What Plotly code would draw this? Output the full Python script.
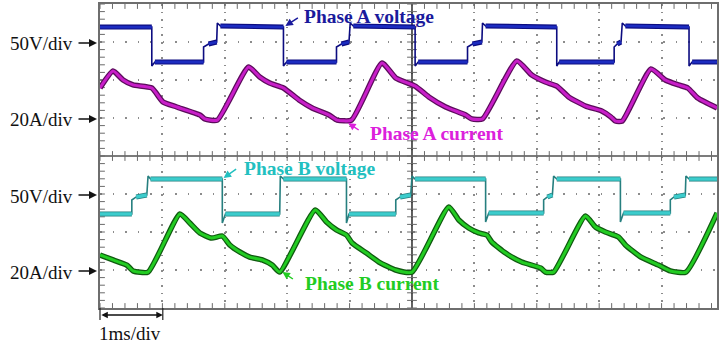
import plotly.graph_objects as go

# ---------------- data (time in ms, voltage in V, current in A) ----------------
# Phase A voltage
ta_v = [0, 0.83, 0.83, 0.88, 1.66, 1.66, 1.74, 1.87, 1.88, 1.93, 2.94, 2.94, 2.99,
        3.79, 3.79, 3.87, 3.99, 4.01, 4.06, 5.05, 5.05, 5.10, 5.89, 5.89, 5.97, 6.12,
        6.13, 6.18, 7.32, 7.32, 7.36, 8.24, 8.24, 8.29, 8.35, 8.37, 8.42, 9.44, 9.44,
        9.49, 9.89]
va = [19.7, 19.7, -31.6, -26.3, -26.3, -6.6, -2.6, 0.0, 25.0, 21.1, 19.7, -31.6, -26.3,
      -26.3, -6.6, -2.6, 0.0, 25.0, 21.1, 19.7, -31.6, -26.3, -26.3, -6.6, -2.6, 0.0,
      25.0, 21.1, 19.7, -31.6, -26.3, -26.3, -6.6, -2.6, 0.0, 25.0, 21.1, 19.7, -31.6,
      -26.3, -26.3]

# Phase A current
ta_i = [0, 0.21, 0.37, 0.53, 0.83, 1.01, 1.23, 1.60, 1.68, 1.88, 2.38, 2.56, 2.72, 2.94,
        3.19, 3.40, 3.67, 3.80, 4.03, 4.52, 4.74, 5.05, 5.27, 5.54, 5.86, 5.96, 6.13,
        6.68, 6.92, 7.14, 7.32, 7.51, 7.78, 8.04, 8.19, 8.26, 8.37, 8.83, 9.06, 9.27,
        9.42, 9.58, 9.89]
ia = [15.8, 24.7, 20.0, 17.4, 15.8, 8.4, 5.8, 1.6, -0.5, -1.1, 26.8, 21.6, 18.4, 15.8,
      9.5, 5.3, 1.6, -1.1, -1.1, 28.9, 21.1, 16.8, 11.1, 5.8, 1.6, -0.5, -0.5,
      30.0, 22.6, 18.9, 16.8, 11.1, 6.3, 3.7, 0.5, -1.6, -1.6, 25.8, 20.0, 17.4,
      15.8, 10.5, 5.3]

# Phase B voltage
tb_v = [0, 0.51, 0.51, 0.58, 0.75, 0.77, 0.81, 1.96, 1.96, 2.01, 2.88, 2.89, 2.94,
        3.95, 3.95, 3.99, 4.74, 4.74, 4.81, 4.98, 5.00, 5.05, 6.18, 6.18, 6.23, 7.11,
        7.11, 7.17, 7.25, 7.27, 7.32, 8.34, 8.34, 8.39, 9.14, 9.14, 9.20, 9.38, 9.39,
        9.44, 9.89]
vb = [-26.3, -26.3, -7.9, -3.9, -1.3, 23.7, 19.7, 19.7, -38.2, -26.3, -26.3, 23.7, 19.7,
      19.7, -38.2, -26.3, -26.3, -7.9, -3.9, -1.3, 23.7, 19.7, 19.7, -36.8, -25.0, -25.0,
      -7.9, -3.9, -1.3, 23.7, 19.7, 19.7, -36.8, -25.0, -25.0, -7.9, -3.9, -1.3, 23.7,
      19.7, 19.7]

# Phase B current
tb_i = [0, 0.21, 0.43, 0.53, 0.77, 1.28, 1.44, 1.60, 1.79, 1.96, 2.08, 2.24, 2.40, 2.60,
        2.76, 2.88, 3.45, 3.63, 3.79, 3.95, 4.04, 4.27, 4.47, 4.74, 5.00, 5.59, 5.75,
        5.91, 6.07, 6.20, 6.28, 6.50, 6.76, 7.06, 7.14, 7.27, 7.78, 7.94, 8.10, 8.31,
        8.42, 8.67, 8.95, 9.14, 9.39, 9.89]
ib = [7.9, 5.3, 2.6, -0.5, -1.1, 29.5, 24.7, 19.5, 16.8, 17.9, 13.2, 9.5, 6.8, 5.3,
      2.6, -1.1, 31.6, 25.3, 21.1, 18.4, 14.2, 8.9, 4.2, 0.0, -1.1, 33.2, 26.3,
      22.1, 19.5, 18.4, 14.7, 8.9, 4.2, 1.1, -1.1, -1.1, 28.4, 22.6, 20.0, 17.4,
      13.2, 6.8, 2.6, -0.5, -1.1, 30.0]

# channel settings: (zero level in divisions, units per division)
ch_offset = {"va": 7, "ia": 5, "vb": 3, "ib": 1}
ch_scale = {"va": 50, "ia": 20, "vb": 50, "ib": 20}

labels = ["Phase A voltage", "Phase A current", "Phase B voltage", "Phase B current"]
scale_labels = ["50V/div", "20A/div", "50V/div", "20A/div"]
time_label = "1ms/div"

# ---------------- layout geometry ----------------
W, H = 719, 345
L, R, T, B = 100, 0, 4, 37
PW, PH = W - L - R, H - T - B
DIVX = 62.6
XMAX = PW / DIVX
NDIV_Y = 8


def pp(x, y):
    """pixel -> paper coords"""
    return (x - L) / PW, (H - B - y) / PH


def scr(vals, key):
    return [ch_offset[key] + v / ch_scale[key] for v in vals]


def flat_parts(t, y, thr):
    xs, ys = [], []
    for i in range(len(t) - 1):
        if abs(y[i + 1] - y[i]) < thr:
            xs += [t[i], t[i + 1], None]
            ys += [y[i], y[i + 1], None]
    return xs, ys


fig = go.Figure()

GRID = "#8c8c8c"
TICK = "#6a6a6a"

# minor tick marks on centre lines and borders
mx = [k * 0.2 for k in range(int(XMAX / 0.2) + 1)]
my = [k * 0.2 for k in range(NDIV_Y * 5 + 1)]
tick_mk = dict(symbol="line-ns", size=7, line=dict(width=1, color=TICK), color=TICK)
tick_mk_h = dict(symbol="line-ew", size=7, line=dict(width=1, color=TICK), color=TICK)
fig.add_trace(go.Scatter(x=mx, y=[4] * len(mx), mode="markers", marker=tick_mk, hoverinfo="skip"))
fig.add_trace(go.Scatter(x=mx, y=[8] * len(mx), mode="markers", marker=tick_mk, hoverinfo="skip"))
fig.add_trace(go.Scatter(x=mx, y=[0] * len(mx), mode="markers", marker=tick_mk, hoverinfo="skip"))
fig.add_trace(go.Scatter(x=[5] * len(my), y=my, mode="markers", marker=tick_mk_h, hoverinfo="skip"))
fig.add_trace(go.Scatter(x=[0] * len(my), y=my, mode="markers", marker=tick_mk_h, hoverinfo="skip"))


def add_voltage(t, v, key, thick_col, edge_col, inner_w):
    y = scr(v, key)
    fig.add_trace(go.Scatter(x=t, y=y, mode="lines", line=dict(color=edge_col, width=1.6),
                             hoverinfo="skip"))
    fx, fy = flat_parts(t, y, 0.06)
    fig.add_trace(go.Scatter(x=fx, y=fy, mode="lines", line=dict(color=edge_col, width=5),
                             hoverinfo="skip"))
    fig.add_trace(go.Scatter(x=fx, y=fy, mode="lines", line=dict(color=thick_col, width=inner_w),
                             hoverinfo="skip"))


def add_current(t, i, key, col, edge_col):
    y = scr(i, key)
    fig.add_trace(go.Scatter(x=t, y=y, mode="lines",
                             line=dict(color=edge_col, width=5.5, shape="spline", smoothing=0.5),
                             hoverinfo="skip"))
    fig.add_trace(go.Scatter(x=t, y=y, mode="lines",
                             line=dict(color=col, width=3, shape="spline", smoothing=0.5),
                             hoverinfo="skip"))


add_voltage(ta_v, va, "va", "#1c2cc0", "#0c0c80", 2.8)
add_current(ta_i, ia, "ia", "#c81ec8", "#5c0c5c")
add_voltage(tb_v, vb, "vb", "#3ccccc", "#267f7f", 3.4)
add_current(tb_i, ib, "ib", "#22cc22", "#105a10")

# trigger marker
fig.add_trace(go.Scatter(x=[5], y=[8.07], mode="markers", cliponaxis=False,
                         marker=dict(symbol="triangle-down", size=8, color="#f5a623",
                                     line=dict(width=0)), hoverinfo="skip"))

shapes = [
    dict(type="line", xref="x", yref="y", x0=0, x1=XMAX, y0=4, y1=4,
         line=dict(color="#7c7c7c", width=2), layer="between"),
    dict(type="line", xref="x", yref="y", x0=5, x1=5, y0=0, y1=8,
         line=dict(color="#2a2a2a", width=1.5), layer="between"),
]
# scale bar end ticks below the plot
for xpix in (100, 163):
    x0, y0 = pp(xpix, 308)
    _, y1 = pp(xpix, 320)
    shapes.append(dict(type="line", xref="paper", yref="paper", x0=x0, x1=x0, y0=y0, y1=y1,
                       line=dict(color="#222", width=1.2)))

ann = []
SERIF = "Liberation Serif, Times New Roman, serif"

# channel labels
txt_pos = [(303, 16, "#1a1a9c"), (369, 133, "#dc20dc"), (242, 168, "#22c0c0"), (304, 283, "#22cc22")]
arrow_pos = [((300, 17), (286, 26)), ((361, 131), (349, 123)),
             ((238, 168), (224, 178)), ((295, 280), (283, 272))]
for lab, (x, y, c), (tail, head) in zip(labels, txt_pos, arrow_pos):
    xp, yp = pp(x, y)
    ann.append(dict(text="<b>" + lab + "</b>", xref="paper", yref="paper", x=xp, y=yp,
                    xanchor="left", yanchor="middle", showarrow=False,
                    font=dict(family=SERIF, size=19.5, color=c)))
    hx, hy = pp(*head)
    ann.append(dict(text="", xref="paper", yref="paper", x=hx, y=hy, showarrow=True,
                    ax=tail[0] - head[0], ay=tail[1] - head[1], arrowhead=2, arrowsize=1,
                    arrowwidth=1.5, arrowcolor=c))

# scale labels on the left
for lab, gy in zip(scale_labels, (42, 118, 194, 270)):
    xp, yp = pp(8, gy + 2)
    ann.append(dict(text=lab, xref="paper", yref="paper", x=xp, y=yp, xanchor="left",
                    yanchor="middle", showarrow=False,
                    font=dict(family=SERIF, size=19, color="#111")))
    hx, hy = pp(97, gy + 1)
    ann.append(dict(text="", xref="paper", yref="paper", x=hx, y=hy, showarrow=True,
                    ax=-20, ay=0, arrowhead=2, arrowsize=1, arrowwidth=1.6, arrowcolor="#111"))

# time scale
hx, hy = pp(163, 315)
ann.append(dict(text="", xref="paper", yref="paper", x=hx, y=hy, showarrow=True,
                ax=-63, ay=0, arrowhead=2, startarrowhead=2, arrowside="end+start",
                arrowsize=1, arrowwidth=1.3, arrowcolor="#111"))
xp, yp = pp(97, 333)
ann.append(dict(text=time_label, xref="paper", yref="paper", x=xp, y=yp, xanchor="left",
                yanchor="middle", showarrow=False,
                font=dict(family=SERIF, size=19, color="#111")))

fig.update_layout(
    width=W, height=H,
    margin=dict(l=L, r=R, t=T, b=B, pad=0),
    paper_bgcolor="white", plot_bgcolor="white",
    showlegend=False,
    shapes=shapes, annotations=ann,
    xaxis=dict(range=[0, XMAX], tick0=0, dtick=1, showticklabels=False, ticks="",
               showgrid=True, gridcolor=GRID, gridwidth=1.5, griddash="1.5px,6.1px",
               zeroline=False, showline=True, linecolor="#6e6e6e", linewidth=1.5,
               mirror=True, fixedrange=True),
    yaxis=dict(range=[0, NDIV_Y], tick0=0, dtick=1, showticklabels=False, ticks="",
               showgrid=True, gridcolor=GRID, gridwidth=1.5, griddash="1.5px,11.02px",
               zeroline=False, showline=True, linecolor="#6e6e6e", linewidth=1.5,
               mirror=True, fixedrange=True),
)

fig.write_html("out.html")
